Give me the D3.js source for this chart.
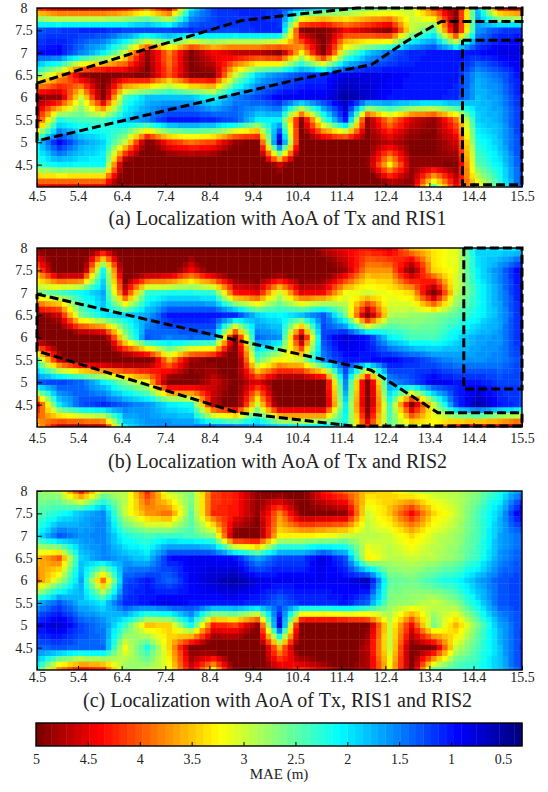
<!DOCTYPE html>
<html><head><meta charset="utf-8">
<script src="https://cdn.jsdelivr.net/npm/d3@7/dist/d3.min.js"></script>
<style>html,body{margin:0;padding:0;background:#fff}svg{display:block}text{font-family:"Liberation Serif",serif;fill:#222}</style>
</head><body><svg id="c" width="548" height="792"></svg>
<script>
const xGrid=[4.5,5,5.5,6,6.5,7,7.5,8,8.5,9,9.5,10,10.5,11,11.5,12,12.5,13,13.5,14,14.5,15,15.5];
const yGrid=[8,7.5,7,6.5,6,5.5,5,4.5,4];
const xTickValues=[4.5,5.43,6.42,7.41,8.41,9.4,10.4,11.4,12.4,13.4,14.4,15.5];
const xTickLabels=["4.5","5.4","6.4","7.4","8.4","9.4","10.4","11.4","12.4","13.4","14.4","15.5"];
const yTickValues=[4.5,5,5.5,6,6.5,7,7.5,8];
const barTicks=[5,4.5,4,3.5,3,2.5,2,1.5,1,0.5];
const captions=["(a) Localization with AoA of Tx and RIS1","(b) Localization with AoA of Tx and RIS2","(c) Localization with AoA of Tx, RIS1 and RIS2"];
const maeA=[
[4.2,4.7,4.7,4.7,4.4,3.8,4.7,2.0,1.2,1.1,1.1,1.2,1.6,2.0,2.3,2.6,2.7,3.0,4.2,5.0,1.8,4.2,4.6],
[1.3,1.2,1.1,1.1,1.2,1.2,1.2,1.1,1.2,1.2,1.1,1.1,4.9,5.1,4.4,4.7,5.0,3.0,2.3,5.0,1.6,1.2,1.1],
[1.0,0.9,1.5,2.0,3.0,4.9,3.8,5.0,4.4,4.7,4.7,5.0,3.3,5.1,2.8,1.9,1.4,1.1,1.0,1.0,1.0,0.8,0.8],
[2.6,3.5,4.8,5.1,4.9,5.0,4.0,5.0,5.0,3.0,1.9,1.5,1.2,1.1,0.8,0.8,0.9,1.0,1.0,1.0,1.7,1.4,0.9],
[4.9,4.9,3.0,5.1,2.4,1.8,1.8,1.8,2.2,1.5,1.2,0.9,0.9,0.9,0.5,0.7,1.0,1.0,1.0,1.1,1.8,1.6,1.0],
[4.4,2.2,2.4,2.4,1.8,1.5,1.0,1.0,1.1,1.3,2.0,2.0,4.9,2.5,1.0,4.9,3.7,4.6,4.9,3.9,1.9,1.7,1.1],
[2.0,0.9,1.6,1.9,3.0,5.1,4.2,3.9,4.1,4.9,5.0,0.6,5.2,5.0,5.0,5.0,4.7,5.0,5.0,4.6,2.2,1.8,1.1],
[2.3,2.0,2.1,2.1,5.3,5.5,5.5,5.5,5.5,5.5,5.5,4.6,5.5,5.5,5.5,4.9,3.3,4.9,4.9,5.0,2.5,2.0,1.2],
[4.5,4.6,4.6,4.6,5.5,5.5,5.5,5.5,5.5,5.5,5.5,5.5,5.5,5.5,5.5,5.5,5.2,4.9,2.5,4.5,3.3,2.3,1.2]];
const maeB=[
[5.0,5.4,5.4,4.9,5.4,5.4,5.4,5.2,5.4,5.4,5.4,5.4,5.2,4.7,4.4,4.3,4.6,3.6,3.3,3.1,1.9,2.0,2.0],
[3.8,5.4,5.4,2.1,5.4,5.4,5.3,4.4,5.3,5.4,5.4,5.4,5.4,5.3,4.8,3.7,3.7,5.1,3.4,3.1,2.0,1.5,0.8],
[2.7,2.4,2.1,1.7,4.5,2.3,2.2,2.2,2.3,4.3,4.5,3.0,4.5,4.4,3.2,3.0,3.2,3.4,5.2,3.0,2.2,1.6,0.9],
[5.0,4.6,2.6,2.0,1.9,1.7,1.0,1.0,1.0,1.1,1.9,2.1,1.8,1.3,2.6,5.2,2.9,2.8,2.7,2.5,2.1,1.7,1.0],
[5.3,5.4,5.4,5.3,2.9,1.3,1.5,1.4,1.5,5.0,1.4,1.6,5.1,1.2,0.7,1.0,2.0,2.4,2.4,2.0,1.7,1.6,1.0],
[2.5,4.6,5.4,5.4,5.4,5.3,3.6,4.8,5.0,5.4,2.5,3.3,3.0,1.5,1.0,1.0,0.9,1.1,1.4,1.6,1.6,1.5,1.2],
[1.3,1.2,1.4,2.0,2.7,3.2,5.2,5.1,4.6,5.0,4.5,5.2,5.3,5.2,1.5,5.3,1.6,1.3,0.8,1.0,1.0,1.2,1.2],
[4.5,2.0,1.3,1.1,1.4,1.6,2.0,2.2,4.7,5.3,3.0,5.3,5.3,5.3,2.0,5.3,2.3,5.0,3.0,1.2,0.5,1.0,1.2],
[3.5,4.7,4.8,4.7,2.0,1.6,1.5,1.5,1.4,1.5,1.6,1.9,2.0,2.0,2.2,4.3,2.5,3.0,3.3,4.2,4.5,4.5,4.8]];
const maeC=[
[2.7,2.9,4.3,2.9,2.9,4.2,2.9,2.7,4.1,4.3,4.9,5.2,5.1,4.3,3.9,3.5,3.4,3.0,2.9,2.9,2.7,2.2,1.5],
[2.5,2.2,1.8,1.5,3.0,3.7,3.9,2.5,4.2,4.3,4.9,3.8,5.0,5.0,4.9,3.0,3.5,4.4,3.4,3.0,2.4,1.8,0.7],
[2.1,1.3,1.6,1.5,2.2,2.4,2.3,2.4,2.7,5.1,5.1,3.3,3.3,3.2,3.0,2.9,3.0,3.4,3.0,2.8,2.4,1.7,1.4],
[3.5,4.0,1.9,1.5,1.7,1.9,1.0,0.9,0.9,1.0,1.7,1.2,1.2,0.8,1.3,3.3,2.9,3.0,2.9,2.7,2.3,1.6,1.3],
[3.9,2.9,1.7,3.9,1.3,1.0,1.4,0.9,0.7,0.5,0.8,0.9,0.9,0.9,0.9,0.6,2.5,2.6,2.3,2.1,1.7,1.3,1.2],
[1.8,1.3,1.8,2.0,1.1,1.0,0.8,1.0,1.0,1.0,1.1,1.4,1.1,1.1,1.0,1.4,2.7,2.8,3.0,2.7,2.0,1.3,1.2],
[0.9,0.7,1.2,1.5,2.3,3.5,3.4,2.1,4.3,4.1,4.9,0.7,5.3,5.4,5.3,5.0,3.0,4.4,2.6,3.6,2.6,1.7,1.2],
[1.4,1.3,1.4,1.4,3.2,2.2,3.4,5.0,5.3,5.4,5.4,3.6,5.4,5.4,5.3,4.7,3.0,5.1,4.9,3.0,2.4,1.8,1.1],
[2.2,3.8,4.4,4.2,2.7,2.9,3.1,4.6,3.3,5.1,5.1,4.7,4.2,4.6,5.0,4.8,3.3,5.1,2.5,2.3,2.2,1.8,1.2]];
const zoneA1=[[4.5,6.32],[6.84,7.04],[9.14,7.72],[10.5,7.87],[11.76,8],[15.5,8],[15.5,7.7],[13.67,7.7],[12.9,7.27],[12.1,6.74],[10.4,6.4],[4.5,5.03],[4.5,6.32]];
const zoneA2=[[14.15,7.28],[15.5,7.28],[15.5,4.05],[14.15,4.05],[14.15,7.28]];
const zoneB1=[[4.5,6.97],[8.75,6.0],[12.08,5.27],[13.59,4.32],[15.5,4.32],[15.5,4.02],[11.68,4.02],[9.06,4.32],[4.5,5.7],[4.5,6.97]];
const zoneB2=[[14.18,8],[15.5,8],[15.5,4.85],[14.18,4.85],[14.18,8]];
const vMax=5,vMin=0.317,levels=64,sub=4;

const clamp=v=>Math.max(0,Math.min(1,v));
const jet=t=>d3.rgb(255*clamp(1.5-Math.abs(4*t-3)),255*clamp(1.5-Math.abs(4*t-2)),255*clamp(1.5-Math.abs(4*t-1))).formatRgb();
const level=d3.scaleQuantize().domain([vMin,vMax]).range(d3.range(levels));
const color=v=>jet(level(Math.max(vMin,Math.min(vMax,v)))/(levels-1));
const svg=d3.select("#c");
const left=37,right=522,tickFont=14;
const panels=[
 {data:maeA,top:8,bottom:187,zones:[zoneA1,zoneA2],capY:225,pad:4},
 {data:maeB,top:248,bottom:427,zones:[zoneB1,zoneB2],capY:468,pad:6},
 {data:maeC,top:491,bottom:670,zones:[],capY:707,pad:2}];
// display resampling between the read grid points, as in the original figure
function sample(grid,r,c){
 const r0=Math.floor(r),c0=Math.floor(c),r1=Math.min(r0+1,grid.length-1),c1=Math.min(c0+1,grid[0].length-1),fr=r-r0,fc=c-c0;
 return (grid[r0][c0]*(1-fc)+grid[r0][c1]*fc)*(1-fr)+(grid[r1][c0]*(1-fc)+grid[r1][c1]*fc)*fr;
}
panels.forEach((p,i)=>{
 const x=d3.scaleLinear().domain([4.5,15.5]).range([left,right]);
 const y=d3.scaleLinear().domain([4,8]).range([p.bottom,p.top]);
 const clipId="clip"+i;
 svg.append("clipPath").attr("id",clipId).append("rect").attr("x",left).attr("y",p.top).attr("width",right-left).attr("height",p.bottom-p.top);
 const cells=[];
 for(let r=0;r<=(yGrid.length-1)*sub;r++)for(let c=0;c<=(xGrid.length-1)*sub;c++){
  cells.push({r,c,v:sample(p.data,r/sub,c/sub)});
 }
 const dx=0.5/sub,dy=0.5/sub;
 const g=svg.append("g").attr("clip-path",`url(#${clipId})`);
 g.selectAll("rect").data(cells).join("rect")
  .attr("x",d=>x(4.5+d.c*dx-dx/2)).attr("y",d=>y(8-d.r*dy+dy/2))
  .attr("width",x(4.5+dx)-x(4.5)+0.4).attr("height",y(4)-y(4+dy)+0.4)
  .attr("fill",d=>color(d.v));
 const axB=d3.axisBottom(x).tickValues(xTickValues).tickFormat((d,k)=>xTickLabels[k]).tickSizeInner(-4).tickSizeOuter(0).tickPadding(p.pad);
 const axL=d3.axisLeft(y).tickValues(yTickValues).tickFormat(d3.format("")).tickSizeInner(-5).tickSizeOuter(0).tickPadding(0);
 const gb=svg.append("g").attr("transform",`translate(0,${p.bottom})`).call(axB);
 const gl=svg.append("g").attr("transform",`translate(${left},0)`).call(axL);
 gl.selectAll("text").attr("x",-13).attr("text-anchor","middle");
 [gb,gl].forEach(a=>{
   a.select(".domain").remove();
   a.selectAll("line").attr("stroke","#000");
   a.selectAll("text").attr("font-size",tickFont).attr("font-family","Liberation Serif").attr("fill","#222");
 });
 svg.append("rect").attr("x",left).attr("y",p.top).attr("width",right-left).attr("height",p.bottom-p.top).attr("fill","none").attr("stroke","#000").attr("stroke-width",1.4);
 const line=d3.line().x(d=>x(d[0])).y(d=>y(d[1]));
 p.zones.forEach(z=>svg.append("path").attr("d",line(z)).attr("fill","none").attr("stroke","#000").attr("stroke-width",3).attr("stroke-dasharray","9,4"));
 svg.append("text").attr("x",277.5).attr("y",p.capY).attr("text-anchor","middle").attr("font-size",20).text(captions[i]);
});
// colour bar
const bx=d3.scaleLinear().domain([vMax,vMin]).range([36,522]);
const barTop=723,barBottom=746,step=(vMax-vMin)/levels;
svg.append("g").selectAll("rect").data(d3.range(levels)).join("rect")
 .attr("x",d=>bx(vMin+(d+1)*step)).attr("y",barTop)
 .attr("width",bx(vMin)-bx(vMin+step)+0.4).attr("height",barBottom-barTop)
 .attr("fill",d=>jet(d/(levels-1)));
const axBar=d3.axisBottom(bx).tickValues(barTicks).tickFormat(d3.format("")).tickSizeInner(-4).tickSizeOuter(0).tickPadding(8);
const ab=svg.append("g").attr("transform",`translate(0,${barBottom})`).call(axBar);
ab.select(".domain").remove();
ab.selectAll("line").attr("stroke","#000");
ab.selectAll("text").attr("font-size",tickFont).attr("font-family","Liberation Serif").attr("fill","#222");
svg.append("rect").attr("x",36).attr("y",barTop).attr("width",486).attr("height",barBottom-barTop).attr("fill","none").attr("stroke","#000").attr("stroke-width",1.4);
svg.append("text").attr("x",279).attr("y",779).attr("text-anchor","middle").attr("font-size",15).text("MAE (m)");
</script></body></html>
